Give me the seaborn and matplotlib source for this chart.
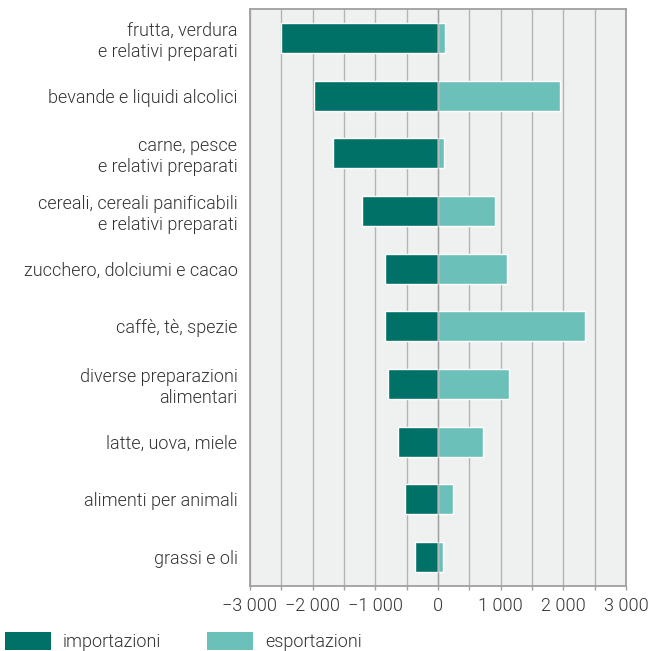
import numpy as np
import pandas as pd
import matplotlib
matplotlib.use("Agg")
import matplotlib.pyplot as plt
import matplotlib.ticker as mticker
from matplotlib.patches import Patch
import seaborn as sns

# =============================================================================
# Data (in thousands)
# =============================================================================
categories = [
    "frutta, verdura\ne relativi preparati",
    "bevande e liquidi alcolici",
    "carne, pesce\ne relativi preparati",
    "cereali, cereali panificabili\ne relativi preparati",
    "zucchero, dolciumi e cacao",
    "caffè, tè, spezie",
    "diverse preparazioni\nalimentari",
    "latte, uova, miele",
    "alimenti per animali",
    "grassi e oli",
]
importazioni = [-2500, -1980, -1680, -1210, -845, -845, -800, -640, -525, -370]
esportazioni = [110, 1950, 95, 910, 1100, 2345, 1130, 720, 240, 80]
series_labels = ["importazioni", "esportazioni"]
colors = ["#007166", "#6bc1b9"]

df = pd.concat([
    pd.DataFrame({"categoria": categories, "valore": importazioni, "serie": series_labels[0]}),
    pd.DataFrame({"categoria": categories, "valore": esportazioni, "serie": series_labels[1]}),
])

# =============================================================================
# Plot
# =============================================================================
sns.set_style("white")
plt.rcParams['font.family'] = ['Roboto', 'DejaVu Sans']
plt.rcParams['font.weight'] = 300
FS = 13

fig = plt.figure(figsize=(6.49, 6.51), dpi=100)
ax = fig.add_axes([250 / 649, 1 - 586 / 651, 376 / 649, 577 / 651])
ax.set_facecolor("#eff1f0")

sns.barplot(
    data=df, y="categoria", x="valore", hue="serie",
    palette=colors, dodge=False, width=0.52, saturation=1,
    order=categories, orient="h", legend=False, ax=ax, zorder=2,
)

ax.set_xlim(-3000, 3000)
ax.set_ylim(len(categories) - 0.5, -0.5)
ax.set_xlabel("")
ax.set_ylabel("")

ax.xaxis.set_major_locator(mticker.MultipleLocator(1000))
ax.xaxis.set_minor_locator(mticker.MultipleLocator(500))
ax.xaxis.set_major_formatter(mticker.FuncFormatter(
    lambda v, p: f"{int(v):,}".replace(",", " ").replace("-", "\u2212")))
ax.grid(axis="x", which="both", color="#b4b4b4", lw=1.0, zorder=0)
ax.set_axisbelow(True)
ax.axvline(0, color="#9a9a9a", lw=1.0, alpha=0.7, zorder=3)

for s in ax.spines.values():
    s.set_color("#a0a0a0")
    s.set_linewidth(1.3)

ax.tick_params(axis="x", which="both", direction="out", length=3, width=1,
               color="#a0a0a0", labelsize=FS, labelcolor="#333333", pad=5,
               bottom=True)
ax.tick_params(axis="y", length=0, labelsize=FS, labelcolor="#333333", pad=9)
for lbl in ax.get_yticklabels() + ax.get_xticklabels():
    lbl.set_fontweight(300)
for lbl in ax.get_yticklabels():
    lbl.set_linespacing(1.2)
    lbl.set_horizontalalignment("right")

handles = [Patch(facecolor=c, edgecolor="none") for c in colors]
leg = fig.legend(
    handles, series_labels, loc="upper left",
    bbox_to_anchor=(5 / 649, 1 - 632 / 651), ncol=2, frameon=False,
    fontsize=FS, handlelength=2.55, handleheight=1.15, handletextpad=0.67,
    columnspacing=2.5, borderpad=0, borderaxespad=0, labelcolor="#333333",
)
for t in leg.get_texts():
    t.set_fontweight(300)

plt.savefig("out.png", dpi=100)
plt.close()
